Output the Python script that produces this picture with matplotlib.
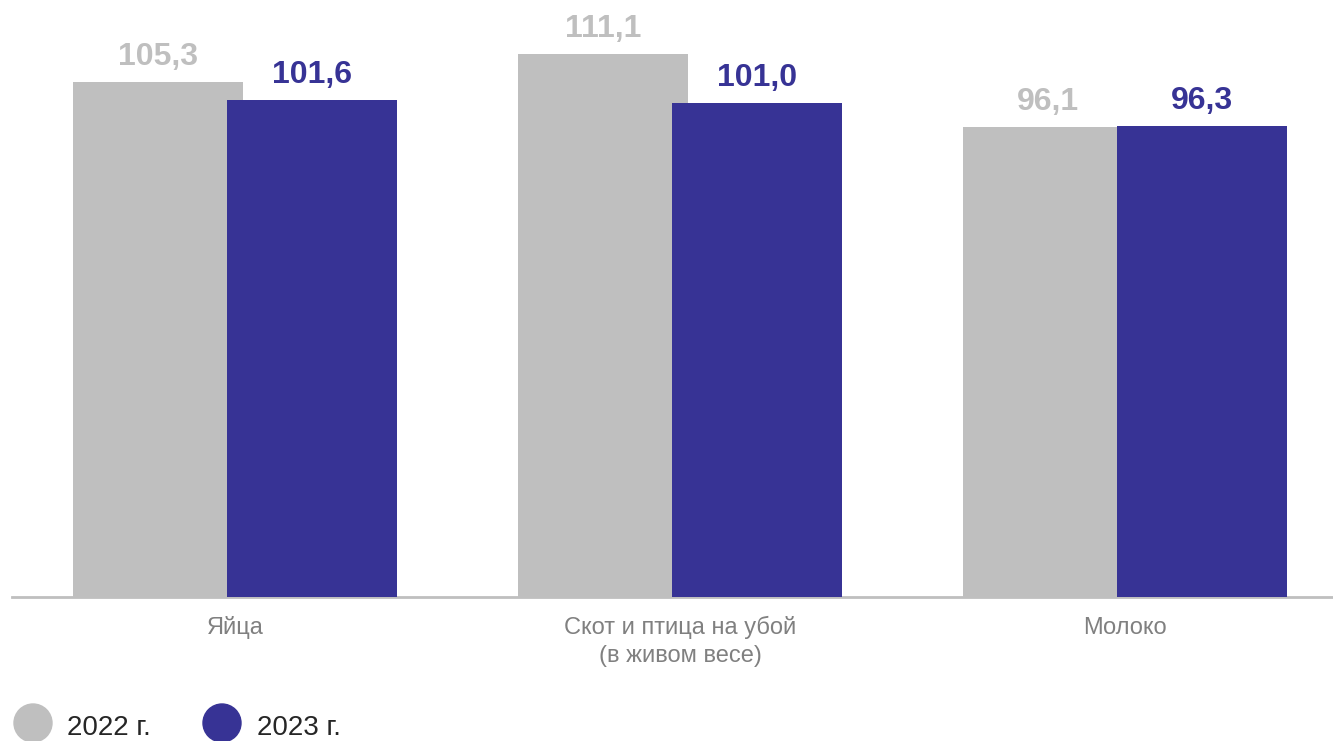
import matplotlib
matplotlib.use("Agg")
import matplotlib.pyplot as plt
from matplotlib.patches import Ellipse
import numpy as np

categories = ["Яйца", "Скот и птица на убой\n(в живом весе)", "Молоко"]
series_names = ["2022 г.", "2023 г."]
values_2022 = [105.3, 111.1, 96.1]
values_2023 = [101.6, 101.0, 96.3]
labels_2022 = ["105,3", "111,1", "96,1"]
labels_2023 = ["101,6", "101,0", "96,3"]

GREY = "#BFBFBF"
BLUE = "#373395"
W, H = 1333, 741
DPI = 100
plt.rcParams['font.family'] = ['Liberation Sans', 'DejaVu Sans']

fig = plt.figure(figsize=(W / DPI, H / DPI), dpi=DPI)
base_px = 597
ax = fig.add_axes([12 / W, (H - base_px) / H, (W - 12) / W, base_px / H])
ax.set_ylim(0, base_px / 4.89)
ax.set_xlim(-0.501, 2.467)

x = np.arange(len(categories))
bw = 0.382
off = 0.173
ax.bar(x - off, values_2022, width=bw, color=GREY, zorder=2)
ax.bar(x + off, values_2023, width=bw, color=BLUE, zorder=3)

gap_pt = 17 * 72 / DPI
for xi, v, lab in zip(x - off, values_2022, labels_2022):
    ax.annotate(lab, (xi, v), xytext=(0, gap_pt), textcoords="offset points",
                ha="center", va="baseline", fontsize=23, fontweight="bold", color=GREY)
for xi, v, lab in zip(x + off, values_2023, labels_2023):
    ax.annotate(lab, (xi, v), xytext=(0, gap_pt), textcoords="offset points",
                ha="center", va="baseline", fontsize=23, fontweight="bold", color=BLUE)

for s in ["top", "right", "left"]:
    ax.spines[s].set_visible(False)
ax.spines["bottom"].set_color(GREY)
ax.spines["bottom"].set_linewidth(2)
ax.set_yticks([])
ax.set_xticks([])

# category labels
for xi, cat in zip(x, categories):
    lines = cat.split("\n")
    for j, line in enumerate(lines):
        ax.annotate(line, (xi, 0), xycoords=("data", "data"),
                    xytext=(0, -(634 - base_px + 28 * j) * 72 / DPI), textcoords="offset points",
                    ha="center", va="baseline", fontsize=17, color="#808080",
                    annotation_clip=False)

# legend
leg_items = [(33, GREY, 67, series_names[0]), (222, BLUE, 257, series_names[1])]
for cx, col, tx, name in leg_items:
    e = Ellipse((cx / W, 1 - 723 / H), 38 / W, 38 / H, transform=fig.transFigure,
                color=col, clip_on=False)
    fig.patches.append(e)
    fig.text(tx / W, 1 - 735 / H, name, fontsize=20, color="#262626",
             ha="left", va="baseline")

fig.savefig("out.png", dpi=DPI)
